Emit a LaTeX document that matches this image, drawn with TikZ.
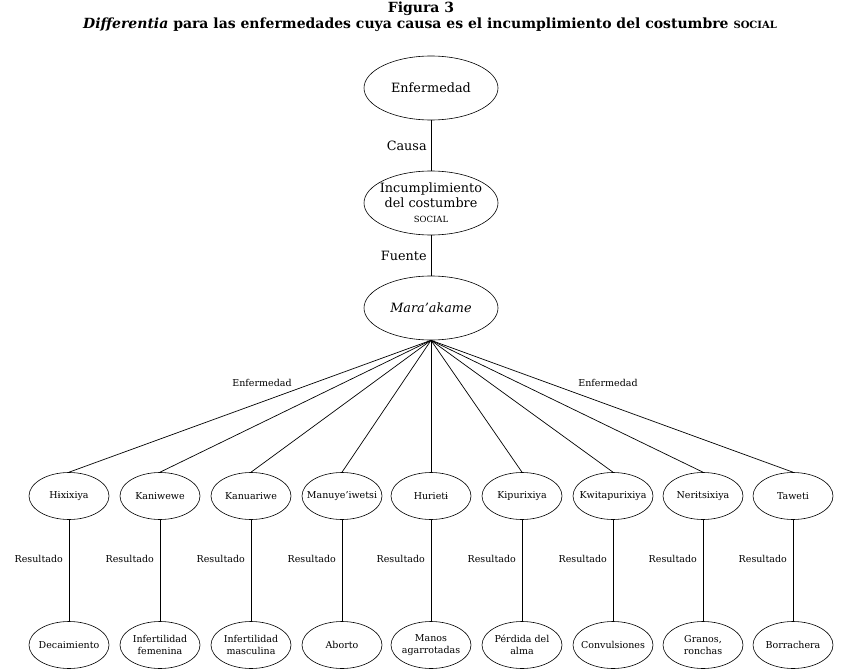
\documentclass[tikz,border=0pt]{standalone}
\usepackage{fontspec}
\setmainfont{DejaVu Serif}
\usetikzlibrary{shapes.geometric}
\newcommand{\zb}[1]{\makebox[0pt]{#1}}
\begin{document}
\begin{tikzpicture}[x=1pt,y=-1pt,
  big/.style={draw, ellipse, line width=0.6pt, minimum width=134pt, minimum height=64pt, inner sep=0pt, font=\fontsize{12.8}{15}\selectfont, align=center},
  mid/.style={draw, ellipse, line width=0.6pt, minimum width=80pt, minimum height=47pt, inner sep=0pt, font=\fontsize{9.5}{11.5}\selectfont, align=center},
  lbl/.style={font=\fontsize{9.5}{11}\selectfont, inner sep=0pt},
  biglbl/.style={font=\fontsize{12.8}{15}\selectfont, inner sep=0pt},
  conn/.style={draw, line width=0.7pt}]
\useasboundingbox (0,0) rectangle (842,671);
\node[font=\bfseries\fontsize{14}{16}\selectfont] (t1) at (421,9) {Figura 3};
\node[font=\bfseries\fontsize{14}{16}\selectfont] (t2) at (430,25) {\textit{Differentia} para las enfermedades cuya causa es el incumplimiento del costumbre {\fontsize{10}{12}\selectfont SOCIAL}};

\node[big] (enf) at (431,88) {\zb{Enfermedad}};
\node[big] (inc) at (431,203) {\zb{Incumplimiento}\\ \zb{del costumbre}\\ \zb{\fontsize{8.5}{10}\selectfont SOCIAL}};
\node[big] (mar) at (431,308) {\zb{\itshape Mara'akame}};
\draw[conn] (enf) -- (inc) node[biglbl, midway, left=4pt] (causa) {Causa};
\draw[conn] (inc) -- (mar) node[biglbl, midway, left=4pt] (fuente) {Fuente};

\foreach \i/\x/\a/\b in {1/69/Hɨxixiya/{\zb{Decaimiento}},
  2/160/Kaniwewe/{\zb{Infertilidad}\\ \zb{femenina}},
  3/251/Kanuariwe/{\zb{Infertilidad}\\ \zb{masculina}},
  4/342/Manuye'iwetsi/{\zb{Aborto}},
  5/431/Hurietɨ/{\zb{Manos}\\ \zb{agarrotadas}},
  6/522/Kipurixiya/{\zb{Pérdida del}\\ \zb{alma}},
  7/613/Kwitapurixiya/{\zb{Convulsiones}},
  8/703/Nerɨtsixiya/{\zb{Granos,}\\ \zb{ronchas}},
  9/793/Taweti/{\zb{Borrachera}}}{
  \node[mid] (d\i) at (\x,496) {\zb{\a}};
  \node[mid] (r\i) at (\x,645) {\b};
  \draw[conn] (mar.south) -- (d\i.north);
  \draw[conn] (d\i) -- (r\i);
  \node[lbl, anchor=east] (res\i) at ([xshift=-6pt]\x,559) {Resultado};
}
\node[lbl] (e1) at (262,383) {Enfermedad};
\node[lbl] (e2) at (608,383) {Enfermedad};
\end{tikzpicture}
\end{document}
